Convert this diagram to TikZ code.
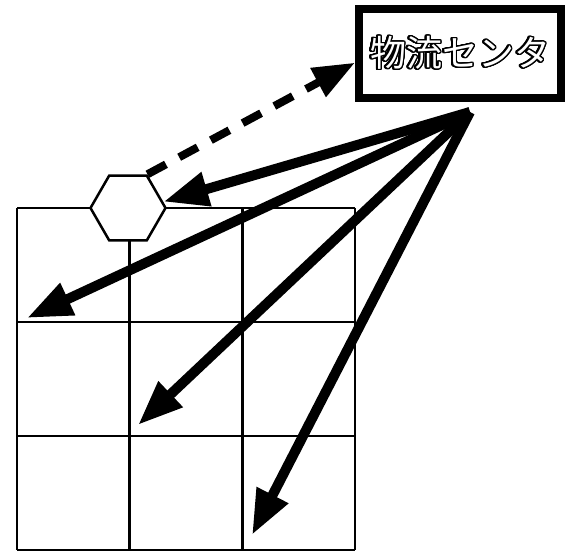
\documentclass[tikz,border=0pt]{standalone}
\usepackage{fontspec}
\usepackage{contour}
\newfontfamily\jpfont{Noto Sans CJK JP}
\usetikzlibrary{arrows.meta, shapes.geometric}
\contourlength{1.4pt}
\contournumber{40}

\tikzset{
    centre/.style = {draw, line width=8pt, minimum width=202pt, minimum height=89pt,
                     inner sep=0pt, font=\jpfont\fontsize{36}{40}\selectfont},
    hub/.style    = {regular polygon, regular polygon sides=6, draw, fill=white,
                     line width=2.5pt, minimum size=75pt, inner sep=0pt},
    cell/.style   = {line width=2.5pt},
    flow/.style   = {line width=10pt, -{Triangle[length=45pt, width=33pt]}},
    link/.style   = {line width=8pt, dash pattern=on 21pt off 15pt,
                     -{Triangle[length=42pt, width=31pt]}}
}

\begin{document}
\begin{tikzpicture}[x=1pt, y=-1pt]
    \useasboundingbox (0,0) rectangle (571,553);

    % 3 x 3 delivery area
    \foreach \i in {0,...,3} {
        \draw[cell] ({17+112.67*\i},208) -- ({17+112.67*\i},550);
        \draw[cell] (17,{208+114*\i}) -- (355,{208+114*\i});
    }

    \node [centre] (ctr) at (460,53.5) {\contour{black}{\textcolor{white}{物流センタ}}};
    \node [hub] (depot) at (128,208) {};

    \coordinate (src) at (470,112);
    \coordinate (cellA) at (27,318);
    \coordinate (cellB) at (138,425);
    \coordinate (cellC) at (252,535);

    \draw[link] (depot.60) -- (ctr.185);
    \draw[flow] (src) -- (depot.10);
    \draw[flow] (src) -- (cellA);
    \draw[flow] (src) -- (cellB);
    \draw[flow] (src) -- (cellC);
\end{tikzpicture}
\end{document}
